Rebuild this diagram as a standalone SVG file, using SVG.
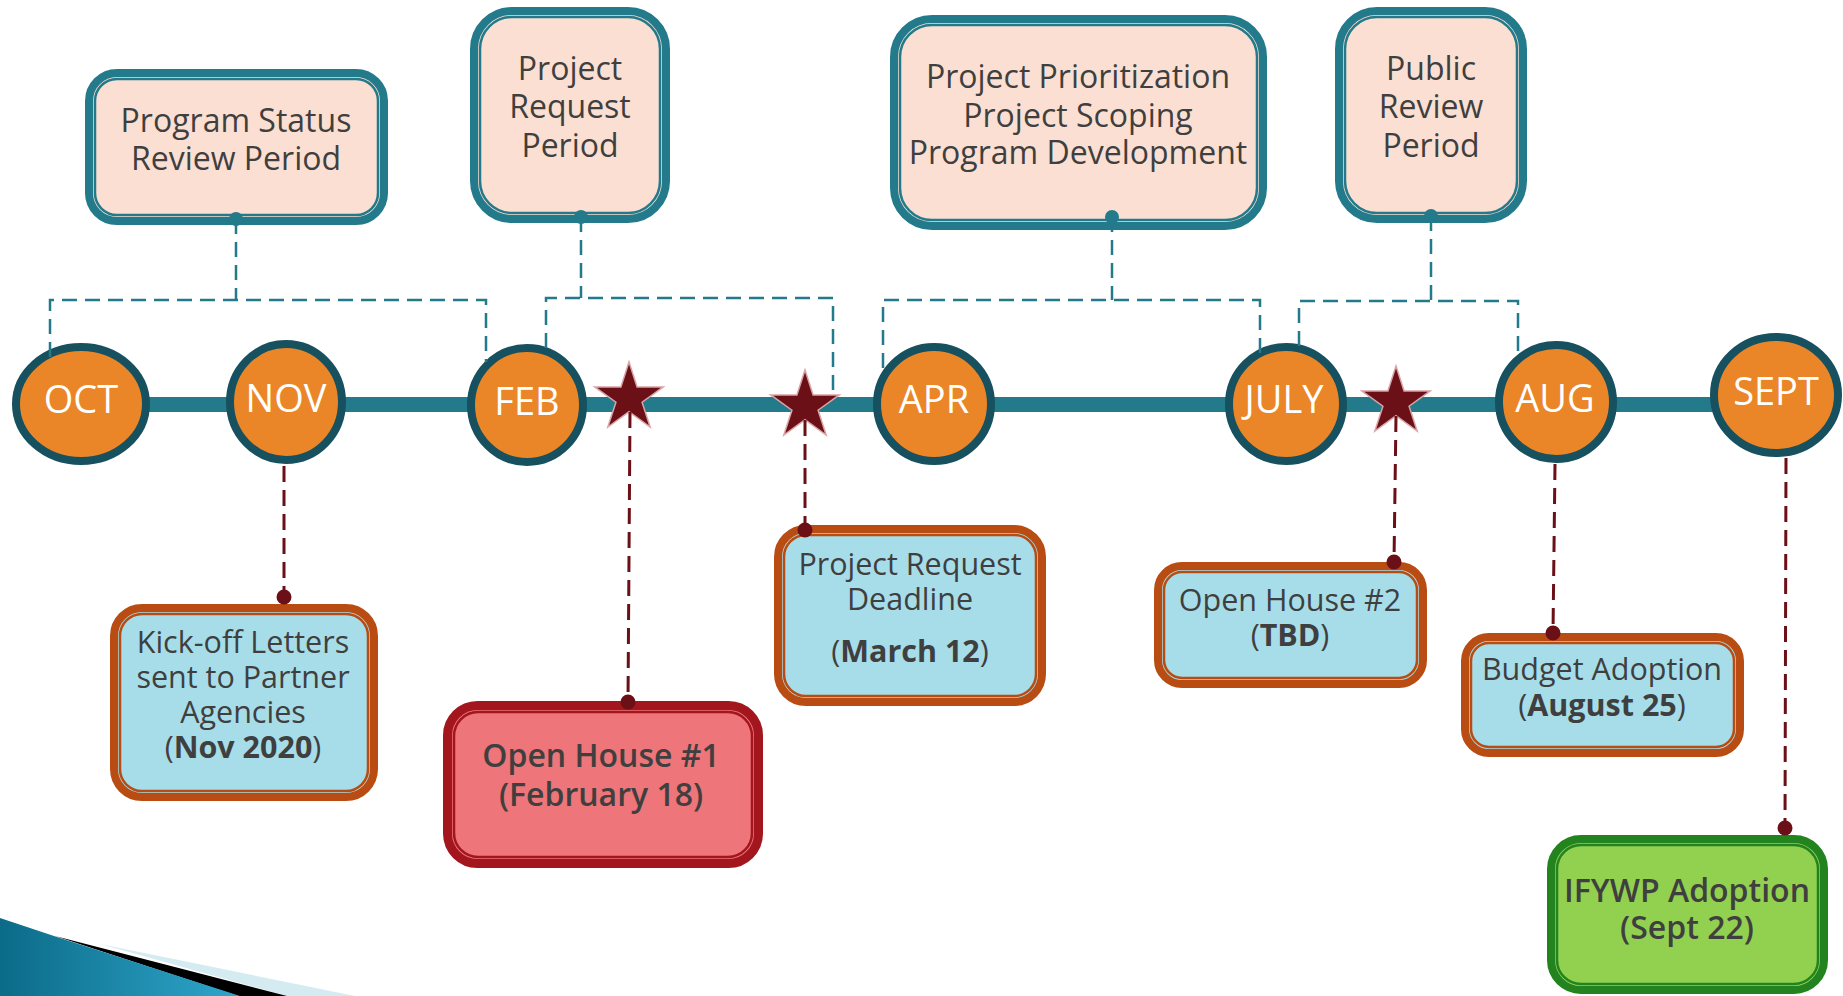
<svg xmlns="http://www.w3.org/2000/svg" xmlns:xlink="http://www.w3.org/1999/xlink" width="1843" height="996" viewBox="0 0 1843 996">
<style>
text{font-family:"Open Sans","Liberation Sans",sans-serif;fill:#3f3f3f;text-anchor:middle}
.mon{fill:#ffffff;font-size:38px}
.ring{fill:#ea8627;stroke:#17505e;stroke-width:8}
.tb{fill:#fbdfd2;stroke:#237a8a;stroke-width:8}
.tbi{fill:none;stroke:#237a8a;stroke-width:2.5}
.bb{fill:#a7dde9;stroke:#b84c12;stroke-width:8}
.bbi{fill:none;stroke:#b84c12;stroke-width:2.5}
.rb{fill:#ee7579;stroke:#a3161e;stroke-width:9}
.rbi{fill:none;stroke:#a3161e;stroke-width:2.5}
.gb{fill:#92d050;stroke:#23831f;stroke-width:8}
.gbi{fill:none;stroke:#23831f;stroke-width:2.5}
.t32{font-size:32px}
.t30{font-size:30.5px}
.sb{font-weight:600}
.tdash{fill:none;stroke:#237a8a;stroke-width:2.5;stroke-dasharray:15 8}
.mdash{fill:none;stroke:#6b1016;stroke-width:3;stroke-dasharray:16 8}
.tdot{fill:#237a8a}
.mdot{fill:#6b1016}
.star{fill:#6b1016;stroke:#d9a3a6;stroke-width:1.5}
</style>
<defs>
<polygon id="starshape" points="0,-36 8.08,-11.12 34.24,-11.12 13.08,4.25 21.16,29.12 0,13.75 -21.16,29.12 -13.08,4.25 -34.24,-11.12 -8.08,-11.12"/>
<linearGradient id="deco" x1="0" y1="0" x2="1" y2="0">
<stop offset="0" stop-color="#0b6b88"/>
<stop offset="1" stop-color="#2fa6cc"/>
</linearGradient>
</defs>
<rect width="1843" height="996" fill="#ffffff"/>

<g id="decoration">
<polygon points="100,944 355,996 287,996" fill="#d5ebf2"/>
<polygon points="55,936 287,996 238,996" fill="#000000"/>
<path d="M0,918 Q30,928 60,938 L240,996 L0,996 Z" fill="url(#deco)"/>
</g>

<g id="timeline">
<rect x="81" y="397" width="1696" height="15" fill="#237a8a"/>
</g>

<g id="oct"><ellipse class="ring" cx="81" cy="404" rx="65" ry="57"/><text class="mon" x="81" y="413">OCT</text></g>
<g id="nov"><ellipse class="ring" cx="286" cy="402" rx="56" ry="58"/><text class="mon" x="286" y="412">NOV</text></g>
<g id="feb"><ellipse class="ring" cx="527" cy="405" rx="56" ry="57"/><text class="mon" x="527" y="415">FEB</text></g>
<g id="apr"><ellipse class="ring" cx="934" cy="404" rx="57" ry="57"/><text class="mon" x="934" y="413">APR</text></g>
<g id="july"><ellipse class="ring" cx="1286" cy="404" rx="57" ry="57"/><text class="mon" x="1284" y="413">JULY</text></g>
<g id="aug"><ellipse class="ring" cx="1556" cy="402" rx="57" ry="57"/><text class="mon" x="1555" y="412">AUG</text></g>
<g id="sept"><ellipse class="ring" cx="1776" cy="395" rx="62" ry="58"/><text class="mon" x="1776" y="405">SEPT</text></g>

<g id="star1"><use xlink:href="#starshape" href="#starshape" class="star" transform="translate(629,398)"/></g>
<g id="star2"><use xlink:href="#starshape" href="#starshape" class="star" transform="translate(805,406)"/></g>
<g id="star3"><use xlink:href="#starshape" href="#starshape" class="star" transform="translate(1396,402)"/></g>

<g id="program-status">
<rect class="tb" x="89" y="73" width="295" height="148" rx="28"/>
<rect class="tbi" x="95" y="79" width="283" height="136" rx="22"/>
<text class="t32"><tspan x="236" y="132">Program Status</tspan><tspan x="236" y="170">Review Period</tspan></text>
</g>
<g id="project-request">
<rect class="tb" x="474" y="11" width="192" height="208" rx="38"/>
<rect class="tbi" x="480" y="17" width="180" height="196" rx="32"/>
<text class="t32"><tspan x="570" y="80">Project</tspan><tspan x="570" y="118">Request</tspan><tspan x="570" y="157">Period</tspan></text>
</g>
<g id="prioritization">
<rect class="tb" x="894" y="19" width="369" height="207" rx="38"/>
<rect class="tbi" x="900" y="25" width="357" height="195" rx="32"/>
<text class="t32"><tspan x="1078" y="88">Project Prioritization</tspan><tspan x="1078" y="127">Project Scoping</tspan><tspan x="1078" y="164">Program Development</tspan></text>
</g>
<g id="public-review">
<rect class="tb" x="1339" y="11" width="184" height="208" rx="38"/>
<rect class="tbi" x="1345" y="17" width="172" height="196" rx="32"/>
<text class="t32"><tspan x="1431" y="80">Public</tspan><tspan x="1431" y="118">Review</tspan><tspan x="1431" y="157">Period</tspan></text>
</g>

<g id="kickoff">
<rect class="bb" x="114" y="608" width="260" height="189" rx="28"/>
<rect class="bbi" x="120" y="614" width="248" height="177" rx="22"/>
<text class="t30"><tspan x="243" y="653">Kick-off Letters</tspan><tspan x="243" y="688">sent to Partner</tspan><tspan x="243" y="723">Agencies</tspan><tspan x="243" y="758">(<tspan font-weight="bold">Nov 2020</tspan>)</tspan></text>
</g>
<g id="open-house-1">
<rect class="rb" x="447.5" y="705.5" width="311" height="158" rx="30"/>
<rect class="rbi" x="454" y="712" width="298" height="145" rx="24"/>
<text class="t32 sb"><tspan x="601" y="767">Open House #1</tspan><tspan x="601" y="806">(February 18)</tspan></text>
</g>
<g id="request-deadline">
<rect class="bb" x="778" y="529" width="264" height="173" rx="28"/>
<rect class="bbi" x="784" y="535" width="252" height="161" rx="22"/>
<text class="t30"><tspan x="910" y="575">Project Request</tspan><tspan x="910" y="610">Deadline</tspan><tspan x="910" y="662">(<tspan font-weight="bold">March 12</tspan>)</tspan></text>
</g>
<g id="open-house-2">
<rect class="bb" x="1158" y="566" width="265" height="118" rx="24"/>
<rect class="bbi" x="1164" y="572" width="253" height="106" rx="18"/>
<text class="t30"><tspan x="1290" y="611">Open House #2</tspan><tspan x="1290" y="646">(<tspan font-weight="bold">TBD</tspan>)</tspan></text>
</g>
<g id="budget">
<rect class="bb" x="1465" y="637" width="275" height="116" rx="24"/>
<rect class="bbi" x="1471" y="643" width="263" height="104" rx="18"/>
<text class="t30"><tspan x="1602" y="680">Budget Adoption</tspan><tspan x="1602" y="716">(<tspan font-weight="bold">August 25</tspan>)</tspan></text>
</g>
<g id="ifywp">
<rect class="gb" x="1551" y="839" width="273" height="151" rx="30"/>
<rect class="gbi" x="1557" y="845" width="261" height="139" rx="24"/>
<text class="t32 sb"><tspan x="1687" y="902">IFYWP Adoption</tspan><tspan x="1687" y="939">(Sept 22)</tspan></text>
</g>

<g id="connectors">
<path class="tdash" d="M236 219 V300 M50 357 V300 H486 V362"/>
<path class="tdash" d="M581 217 V298 M546 348 V298 H833 V397"/>
<path class="tdash" d="M1112 217 V300 M883 368 V300 H1260 V358"/>
<path class="tdash" d="M1431 216 V301 M1299 346 V301 H1518 V356"/>
<circle class="tdot" cx="236" cy="219" r="7"/>
<circle class="tdot" cx="581" cy="217" r="7"/>
<circle class="tdot" cx="1112" cy="217" r="7"/>
<circle class="tdot" cx="1431" cy="216" r="7"/>
<path class="mdash" d="M284 466 V597"/>
<path class="mdash" d="M630 412 L628 702"/>
<path class="mdash" d="M805 420 V530"/>
<path class="mdash" d="M1396 416 L1394 562"/>
<path class="mdash" d="M1555 464 L1553 633"/>
<path class="mdash" d="M1786 458 L1785 828"/>
<circle class="mdot" cx="284" cy="597" r="7.5"/>
<circle class="mdot" cx="628" cy="702" r="7.5"/>
<circle class="mdot" cx="805" cy="530" r="7.5"/>
<circle class="mdot" cx="1394" cy="562" r="7.5"/>
<circle class="mdot" cx="1553" cy="633" r="7.5"/>
<circle class="mdot" cx="1785" cy="828" r="7.5"/>
</g>
</svg>
